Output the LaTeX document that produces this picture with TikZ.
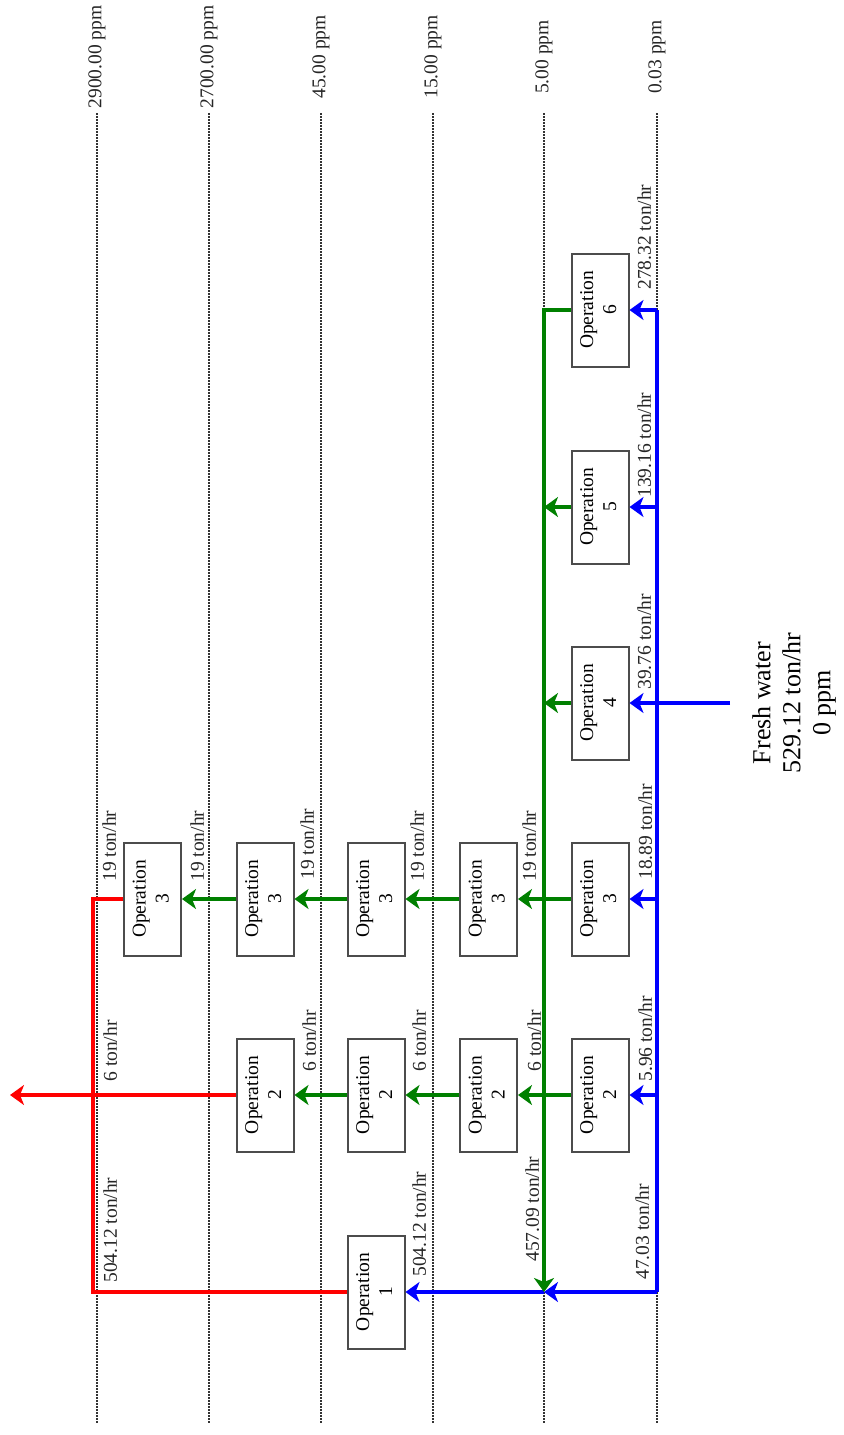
\documentclass[tikz,border=0pt]{standalone}
\usepackage{fontspec}
\usepackage{graphicx}
\setmainfont{Liberation Serif}
\usetikzlibrary{arrows.meta}
\definecolor{flowred}{RGB}{255,0,0}
\definecolor{flowgreen}{RGB}{0,128,0}
\definecolor{flowblue}{RGB}{0,0,255}
\tikzset{
  opbox/.style={draw=black!70, line width=1pt, fill=white, minimum width=28.5pt,
    minimum height=56.5pt, inner sep=0pt, font=\fontsize{9.75}{11.5}\selectfont},
  pipe/.style={line width=1.6pt},
  flow/.style={pipe, -{Stealth[length=7pt,width=10pt,inset=2pt]}},
  rate/.style={rotate=90, anchor=north west, inner sep=0pt, text=black!85,
    font=\fontsize{9.75}{11.5}\selectfont},
  ppm/.style={rotate=90, inner sep=0pt, text=black!85, font=\fontsize{9.75}{11.5}\selectfont},
  level/.style={line width=0.75pt, black!80, dash pattern=on 0.75pt off 0.75pt}
}
\newcommand{\opname}[1]{\rotatebox{90}{\begin{tabular}{@{}c@{}}Operation\\#1\end{tabular}}}
\begin{document}
\begin{tikzpicture}[x=0.5pt,y=-0.5pt]
\useasboundingbox (0,0) rectangle (843,1435);
% concentration levels
\foreach \x/\c [count=\i] in {97/2900.00, 209/2700.00, 321/45.00, 433/15.00, 544/5.00, 657/0.03} {
  \draw[level] (\x,113) -- (\x,1423);
  \node[ppm] (lvl\i) at (\x,57) {\c\ ppm};
}
% operations
\node[opbox] (c1o3) at (152.5,899) {\opname{3}};
\node[opbox] (c2o2) at (265,1095) {\opname{2}};
\node[opbox] (c2o3) at (265,899) {\opname{3}};
\node[opbox] (c3o1) at (376,1292) {\opname{1}};
\node[opbox] (c3o2) at (376,1095) {\opname{2}};
\node[opbox] (c3o3) at (376,899) {\opname{3}};
\node[opbox] (c4o2) at (488.5,1095) {\opname{2}};
\node[opbox] (c4o3) at (488.5,899) {\opname{3}};
\node[opbox] (c5o2) at (600,1095) {\opname{2}};
\node[opbox] (c5o3) at (600,899) {\opname{3}};
\node[opbox] (c5o4) at (600,703) {\opname{4}};
\node[opbox] (c5o5) at (600,507) {\opname{5}};
\node[opbox] (c5o6) at (600,310) {\opname{6}};
% pipe corners
\coordinate (bluetop) at (657,310);
\coordinate (bluebot) at (657,1292);
\coordinate (greentop) at (544,310);
\coordinate (greenbot) at (544,1292);
\coordinate (redtop) at (93,899);
\coordinate (redbot) at (93,1292);
\coordinate (wastewater) at (10,1095);
\coordinate (freshin) at (730,703);
% fresh water
\draw[pipe, flowblue] (bluetop) -- (bluebot);
\foreach \n in {c5o6,c5o5,c5o3,c5o2}
  \draw[flow, flowblue] (\n.east -| bluetop) -- (\n.east);
\draw[flow, flowblue] (freshin) -- (c5o4.east);
\draw[flow, flowblue] (bluebot) -- (greenbot);
\draw[flow, flowblue] (greenbot) -- (c3o1.east);
% reuse
\draw[flow, flowgreen] (c5o6.west) -- (greentop) -- (greenbot);
\draw[flow, flowgreen] (c5o5.west) -- (c5o5.west -| greentop);
\draw[flow, flowgreen] (c5o4.west) -- (c5o4.west -| greentop);
\draw[flow, flowgreen] (c5o3.west) -- (c4o3.east);
\draw[flow, flowgreen] (c4o3.west) -- (c3o3.east);
\draw[flow, flowgreen] (c3o3.west) -- (c2o3.east);
\draw[flow, flowgreen] (c2o3.west) -- (c1o3.east);
\draw[flow, flowgreen] (c5o2.west) -- (c4o2.east);
\draw[flow, flowgreen] (c4o2.west) -- (c3o2.east);
\draw[flow, flowgreen] (c3o2.west) -- (c2o2.east);
% wastewater
\draw[pipe, flowred] (c1o3.west) -- (redtop) -- (redbot) -- (c3o1.west);
\draw[flow, flowred] (c2o2.west) -- (wastewater);
% flow rates
\node[rate] (q1) at (102,882) {19 ton/hr};
\node[rate] (q2) at (190,882) {19 ton/hr};
\node[rate] (q3) at (300,880) {19 ton/hr};
\node[rate] (q4) at (410,882) {19 ton/hr};
\node[rate] (q5) at (522,882) {19 ton/hr};
\node[rate] (q6) at (638,880) {18.89 ton/hr};
\node[rate] (q7) at (103,1082) {6 ton/hr};
\node[rate] (q8) at (302,1072) {6 ton/hr};
\node[rate] (q9) at (412,1072) {6 ton/hr};
\node[rate] (q10) at (527,1072) {6 ton/hr};
\node[rate] (q11) at (638,1082) {5.96 ton/hr};
\node[rate] (q12) at (103,1283) {504.12 ton/hr};
\node[rate] (q13) at (412,1277) {504.12 ton/hr};
\node[rate] (q14) at (525,1262) {457.09 ton/hr};
\node[rate] (q15) at (635,1280) {47.03 ton/hr};
\node[rate] (q16) at (637,290) {278.32 ton/hr};
\node[rate] (q17) at (637,498) {139.16 ton/hr};
\node[rate] (q18) at (637,690) {39.76 ton/hr};
\node[rotate=90, align=center, font=\fontsize{13}{15}\selectfont] (fresh) at (794,703)
  {Fresh water\\529.12 ton/hr\\0 ppm};
\end{tikzpicture}
\end{document}
